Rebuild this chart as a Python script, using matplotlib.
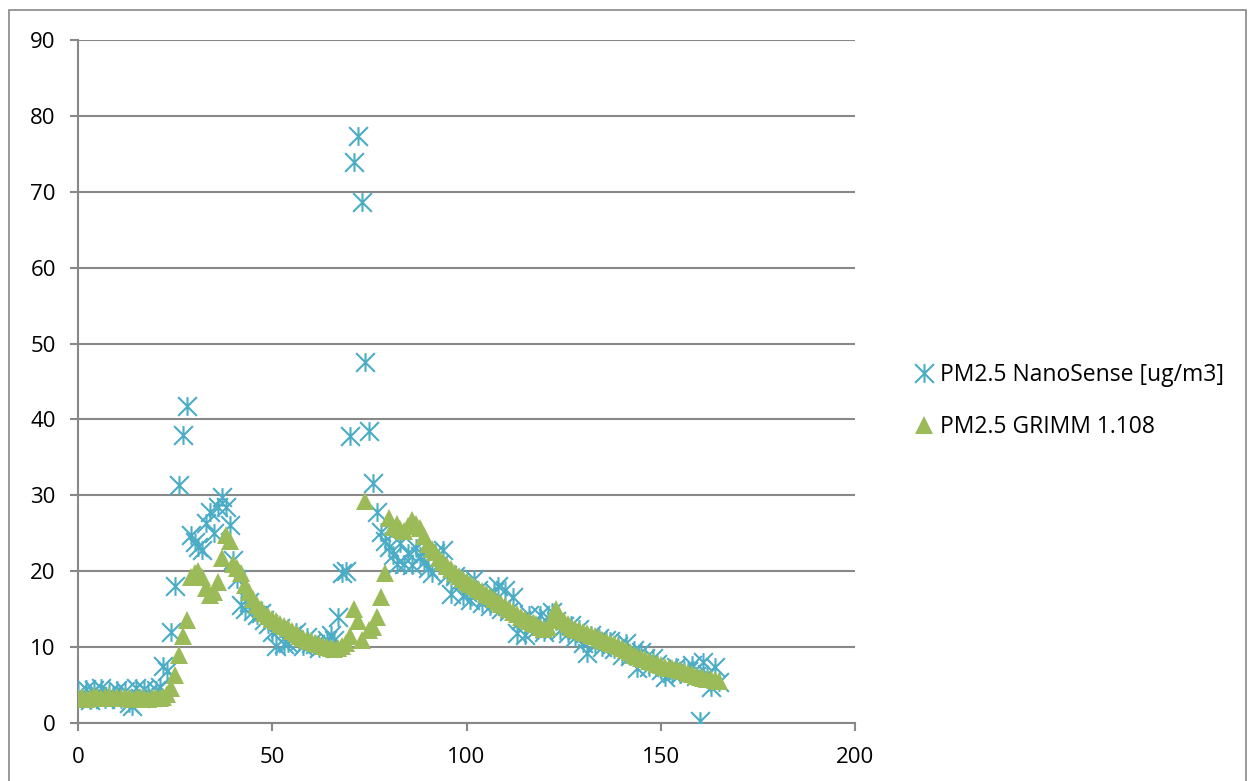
import numpy as np
from matplotlib import pyplot as plt
from matplotlib.path import Path
from matplotlib.patches import Rectangle

plt.rcParams['font.family'] = ['Open Sans', 'DejaVu Sans']

# sample index, 0..165
x_vals = list(range(166))

nanosense = [
    4.0, 3.2, 4.5, 3.0, 4.3, 3.5, 4.6, 3.2, 4.0, 3.6,
    4.4, 3.1, 4.2, 2.6, 2.2, 4.6, 3.3, 4.5, 3.9, 3.4,
    4.4, 4.8, 7.5, 6.8, 12.0, 18.0, 31.3, 37.9, 41.8, 24.8,
    23.9, 23.2, 22.8, 26.3, 27.8, 25.0, 28.5, 29.8, 28.5, 26.1,
    21.5, 19.0, 15.5, 15.0, 16.0, 14.8, 14.2, 14.5, 13.6, 13.0,
    12.0, 10.2, 12.5, 10.4, 10.5, 11.6, 12.0, 10.8, 10.2, 11.3,
    10.6, 10.4, 9.9, 10.3, 11.0, 11.6, 11.0, 14.0, 19.8, 20.0,
    37.8, 73.9, 77.3, 68.6, 47.6, 38.5, 31.6, 27.8, 25.2, 24.0,
    23.2, 22.1, 21.0, 23.7, 21.0, 22.4, 20.8, 23.0, 22.0, 21.2,
    20.4, 19.7, 22.4, 21.0, 22.8, 19.5, 17.0, 19.4, 18.6, 16.8,
    17.2, 16.2, 19.0, 17.5, 15.8, 16.8, 15.4, 17.2, 18.0, 15.0,
    17.5, 14.8, 16.6, 11.8, 13.6, 11.6, 14.2, 13.0, 12.4, 14.2,
    12.0, 13.8, 14.6, 13.5, 12.2, 12.8, 11.8, 12.9, 11.3, 12.4,
    10.6, 9.2, 11.6, 10.4, 11.2, 10.0, 11.0, 10.8, 9.7, 10.2,
    9.0, 10.6, 8.8, 9.6, 7.2, 9.4, 8.6, 7.4, 8.6, 7.8,
    7.0, 6.1, 7.2, 6.6, 7.4, 6.4, 7.0, 6.8, 7.6, 6.2,
    0.2, 8.1, 6.4, 4.8, 7.4, 5.4,
]

grimm = [
    3.3, 3.4, 3.2, 3.3, 3.5, 3.4, 3.3, 3.4, 3.5, 3.3,
    3.4, 3.3, 3.4, 3.3, 3.2, 3.3, 3.4, 3.3, 3.2, 3.3,
    3.4, 3.3, 3.4, 3.8, 4.6, 6.3, 9.0, 11.4, 13.6, 19.3,
    19.8, 20.0, 19.2, 17.8, 16.9, 17.2, 18.6, 21.8, 24.8, 24.0,
    21.0, 20.4, 19.8, 18.2, 17.2, 16.3, 15.6, 15.0, 14.5, 14.1,
    13.7, 13.4, 13.0, 12.8, 12.5, 12.1, 11.8, 11.5, 11.2, 11.0,
    10.8, 10.6, 10.4, 10.2, 10.0, 9.9, 9.8, 9.9, 10.2, 10.6,
    11.5, 15.0, 13.5, 11.0, 29.2, 12.2, 12.6, 14.0, 16.6, 19.7,
    27.0, 25.8, 26.2, 25.6, 25.3, 26.0, 26.7, 26.2, 25.7, 24.6,
    23.6, 22.9, 22.5, 21.8, 21.2, 20.7, 20.3, 19.8, 19.4, 19.0,
    18.6, 18.3, 18.0, 17.7, 17.4, 17.0, 16.7, 16.4, 16.0, 15.7,
    15.4, 15.0, 14.6, 14.3, 14.0, 13.7, 13.5, 13.2, 13.0, 12.7,
    12.4, 12.6, 13.6, 15.0, 14.0, 13.4, 13.0, 12.7, 12.4, 12.2,
    12.0, 11.8, 11.6, 11.4, 11.2, 11.0, 10.8, 10.6, 10.4, 10.2,
    9.9, 9.6, 9.3, 9.0, 8.8, 8.6, 8.4, 8.2, 8.0, 7.8,
    7.6, 7.4, 7.3, 7.2, 7.1, 7.0, 6.8, 6.6, 6.4, 6.2,
    6.0, 5.9, 5.8, 5.8, 5.7, 5.6,
]

x_ticks = [0, 50, 100, 150, 200]
y_ticks = [0, 10, 20, 30, 40, 50, 60, 70, 80, 90]

label_nano = "PM2.5 NanoSense [ug/m3]"
label_grimm = "PM2.5 GRIMM 1.108"

AQUA = "#4BACC6"
GREEN = "#9BBB59"
GRID = "#888888"

# Excel style asterisk: vertical bar plus an X
star_path = Path(
    [(0, -1), (0, 1), (-1, -1), (1, 1), (-1, 1), (1, -1)],
    [Path.MOVETO, Path.LINETO, Path.MOVETO, Path.LINETO, Path.MOVETO, Path.LINETO],
)

fig = plt.figure(figsize=(12.52, 7.81), dpi=100)
ax = fig.add_axes([78 / 1252, 1 - 723 / 781, (855 - 78) / 1252, (723 - 40) / 781])

ax.plot(x_vals, nanosense, linestyle="none", marker=star_path, markersize=13.5,
        markerfacecolor="none", markeredgecolor=AQUA, markeredgewidth=1.5,
        label=label_nano, zorder=3)
ax.plot(x_vals, grimm, linestyle="none", marker="^", markersize=13.5,
        color=GREEN, markeredgewidth=0, label=label_grimm, zorder=4)

ax.set_xlim(0, 200)
ax.set_ylim(0, 90)
ax.set_xticks(x_ticks)
ax.set_yticks(y_ticks)
ax.yaxis.grid(True, color=GRID, linewidth=1.5)
ax.set_axisbelow(True)

for side in ["top", "right"]:
    ax.spines[side].set_visible(False)
for side in ["left", "bottom"]:
    ax.spines[side].set_color(GRID)
    ax.spines[side].set_linewidth(1.5)

ax.tick_params(axis="both", direction="out", length=6, width=1.5, color=GRID,
               labelsize=16, labelcolor="black")
ax.tick_params(axis="x", pad=11)
ax.tick_params(axis="y", pad=10)
for lbl in ax.get_xticklabels() + ax.get_yticklabels():
    lbl.set_clip_on(False)

fig.legend(loc="center left", bbox_to_anchor=(903 / 1252, 1 - 401 / 781),
           frameon=False, fontsize=16.5, handletextpad=0.15, labelspacing=1.25,
           handlelength=1.05, borderaxespad=0)

# chart area border (bottom edge lies outside the picture)
fig.patches.append(Rectangle((9 / 1252, -0.02), (1246 - 9) / 1252, 1.02 - 10 / 781,
                             transform=fig.transFigure, fill=False,
                             edgecolor=GRID, linewidth=1.2))

plt.savefig("out.png", dpi=100)
